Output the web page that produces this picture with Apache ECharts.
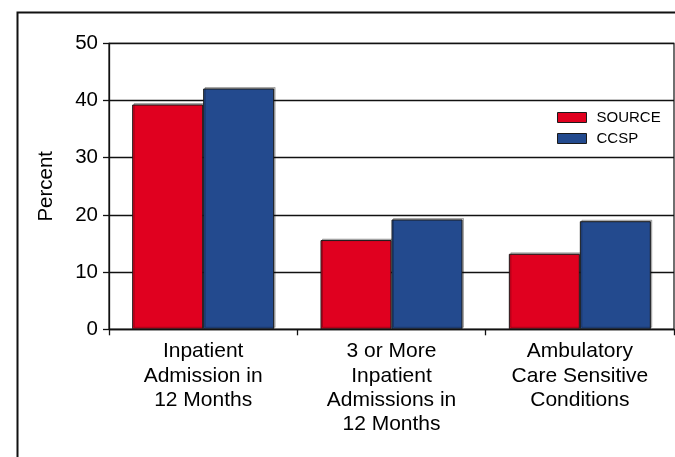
<!DOCTYPE html>
<html>
<head>
<meta charset="utf-8">
<script src="https://cdn.jsdelivr.net/npm/echarts@6/dist/echarts.min.js"></script>
<style>html,body{margin:0;padding:0;background:#fff}#c{width:675px;height:457px}</style>
</head>
<body>
<div id="c"></div>
<script>
const categories = ['Inpatient\nAdmission in\n12 Months', '3 or More\nInpatient\nAdmissions in\n12 Months', 'Ambulatory\nCare Sensitive\nConditions'];
const sourceValues = [39.3, 15.6, 13.2];
const ccspValues = [42.1, 19.2, 18.9];
const yTicks = [0, 10, 20, 30, 40, 50];

const FONT = '"Liberation Sans", Arial, sans-serif';
const chart = echarts.init(document.getElementById('c'), null, {renderer: 'canvas'});
const barStyle = (color) => ({
  color: color,
  borderColor: '#1a1a1a',
  borderWidth: 1,
  shadowColor: 'rgba(0,0,0,0.25)',
  shadowBlur: 0,
  shadowOffsetX: 1.5,
  shadowOffsetY: -1.5
});
chart.setOption({
  animation: false,
  backgroundColor: '#fff',
  textStyle: {fontFamily: FONT, color: '#000'},
  graphic: [{
    type: 'rect', silent: true, z: 100,
    shape: {x: 17.5, y: 12.5, width: 720, height: 520},
    style: {fill: 'none', stroke: '#111', lineWidth: 2}
  }],
  grid: {left: 109, right: 1, top: 43.3, bottom: 127.7, show: true, borderColor: '#111', borderWidth: 1.2, backgroundColor: 'transparent'},
  legend: {
    left: 557, top: 109.5, orient: 'vertical', padding: 0,
    icon: 'rect',
    itemWidth: 29, itemHeight: 10, itemGap: 5,
    itemStyle: {borderColor: '#1a1a1a', borderWidth: 1, shadowColor: 'transparent'},
    textStyle: {fontFamily: FONT, fontSize: 15, color: '#000', lineHeight: 16, padding: [0, 0, 0, 5]},
    data: ['SOURCE', 'CCSP']
  },
  xAxis: {
    type: 'category', data: categories,
    axisLine: {lineStyle: {color: '#111', width: 1.3}},
    axisTick: {show: true, length: 6, lineStyle: {color: '#111', width: 1.3}},
    axisLabel: {fontFamily: FONT, fontSize: 21, lineHeight: 24.3, color: '#000', margin: 10, interval: 0}
  },
  yAxis: {
    type: 'value', min: 0, max: 50, interval: 10,
    name: 'Percent', nameLocation: 'middle', nameGap: 52,
    nameTextStyle: {fontFamily: FONT, fontSize: 20.5, color: '#000'},
    axisLine: {show: true, lineStyle: {color: '#111', width: 1.3}},
    axisTick: {show: true, length: 6, lineStyle: {color: '#111', width: 1.3}},
    axisLabel: {fontFamily: FONT, fontSize: 20.5, color: '#000', margin: 11,
      formatter: (v) => yTicks.includes(v) ? String(v) : ''},
    splitLine: {show: true, lineStyle: {color: '#111', width: 1.3}}
  },
  series: [
    {name: 'SOURCE', type: 'bar', data: sourceValues, barWidth: 71, barGap: '0%', itemStyle: barStyle('#e0001f')},
    {name: 'CCSP', type: 'bar', data: ccspValues, barWidth: 71, barGap: '0%', itemStyle: barStyle('#234a8e')}
  ]
});
</script>
</body>
</html>
